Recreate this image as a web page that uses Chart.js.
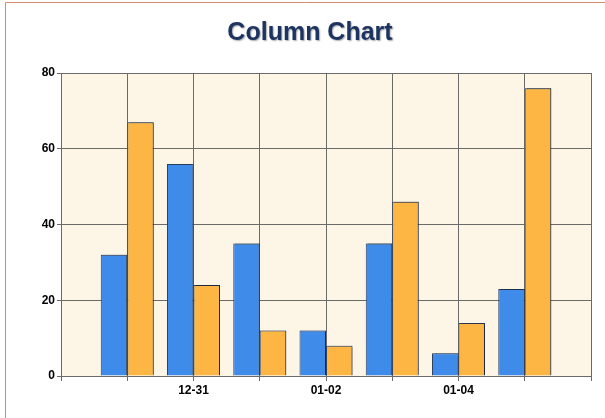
<!DOCTYPE html>
<html>
<head>
<meta charset="utf-8">
<script src="https://cdn.jsdelivr.net/npm/chart.js@4/dist/chart.umd.min.js"></script>
<style>
  html, body { margin: 0; padding: 0; background: #fff; }
  #wrap { width: 605px; height: 418px; }
</style>
</head>
<body>
<div id="wrap"><canvas id="myChart" width="605" height="418"></canvas></div>
<script>
// categories (first and last are empty slots so the axis runs past the bars)
const categories = ['12-29', '12-30', '12-31', '01-01', '01-02', '01-03', '01-04', '01-05', '01-06'];
const shownLabels = ['12-31', '01-02', '01-04'];
const seriesA = [null, 32, 56, 35, 12, 35, 6, 23, null];
const seriesB = [null, 67, 24, 12, 8, 46, 14, 76, null];
const yTicks = [0, 20, 40, 60, 80];
const titleText = 'Column Chart';

const framePlugin = {
    id: 'frame',
    beforeDraw(chart) {
        const c = chart.ctx;
        const a = chart.chartArea;
        c.save();
        c.fillStyle = '#fdf5e6';
        c.fillRect(a.left, a.top, a.right - a.left, a.bottom - a.top);
        c.strokeStyle = '#d58a6c';
        c.lineWidth = 1;
        c.beginPath();
        c.moveTo(5.5, 418);
        c.lineTo(5.5, 2.5);
        c.lineTo(605, 2.5);
        c.stroke();
        // title with a soft shadow
        c.font = 'bold 25px "Liberation Sans", Arial, sans-serif';
        c.textAlign = 'center';
        c.textBaseline = 'middle';
        c.shadowColor = 'rgba(0,0,0,0.35)';
        c.shadowOffsetX = 1;
        c.shadowOffsetY = 1;
        c.shadowBlur = 1.5;
        c.fillStyle = '#1d3461';
        c.fillText(titleText, 310, 33);
        c.restore();
    },
    beforeDatasetsDraw(chart) {
        const c = chart.ctx;
        c.save();
        c.shadowColor = 'rgba(0,0,0,0.35)';
        c.shadowOffsetX = 1.5;
        c.shadowOffsetY = -1;
        c.shadowBlur = 1;
    },
    afterDatasetsDraw(chart) {
        chart.ctx.restore();
    }
};

const ctx = document.getElementById('myChart');
new Chart(ctx, {
    type: 'bar',
    data: {
        labels: categories,
        datasets: [{
            label: 'A',
            data: seriesA,
            backgroundColor: '#3f8bea',
            borderColor: '#2c4266',
            borderWidth: 1,
            categoryPercentage: 0.8,
            barPercentage: 1.0
        }, {
            label: 'B',
            data: seriesB,
            backgroundColor: '#fdb643',
            borderColor: '#2c4266',
            borderWidth: 1,
            categoryPercentage: 0.8,
            barPercentage: 1.0
        }]
    },
    options: {
        responsive: false,
        animation: false,
        layout: { padding: { left: 0, right: 14, top: 73, bottom: 0 } },
        plugins: {
            legend: { display: false },
            tooltip: { enabled: false },
            title: { display: false }
        },
        scales: {
            x: {
                offset: false,
                grid: {
                    offset: false,
                    color: '#6a6a6a',
                    lineWidth: 1,
                    tickLength: 5,
                    drawTicks: true
                },
                border: { color: '#6a6a6a' },
                ticks: {
                    autoSkip: false,
                    maxRotation: 0,
                    color: '#000',
                    padding: 2,
                    font: { family: 'Liberation Sans, Arial, sans-serif', size: 12, weight: 'bold' },
                    callback: function (v, i) {
                        const l = categories[i];
                        return shownLabels.includes(l) ? l : '';
                    }
                },
                afterFit(scale) { scale.height = 42; }
            },
            y: {
                min: yTicks[0],
                max: yTicks[yTicks.length - 1],
                grid: { color: '#6a6a6a', lineWidth: 1, tickLength: 4 },
                border: { color: '#6a6a6a' },
                ticks: {
                    stepSize: 20,
                    color: '#000',
                    padding: 2,
                    font: { family: 'Liberation Sans, Arial, sans-serif', size: 12, weight: 'bold' }
                },
                afterFit(scale) { scale.width = 61; }
            }
        }
    },
    plugins: [framePlugin]
});
</script>
</body>
</html>
